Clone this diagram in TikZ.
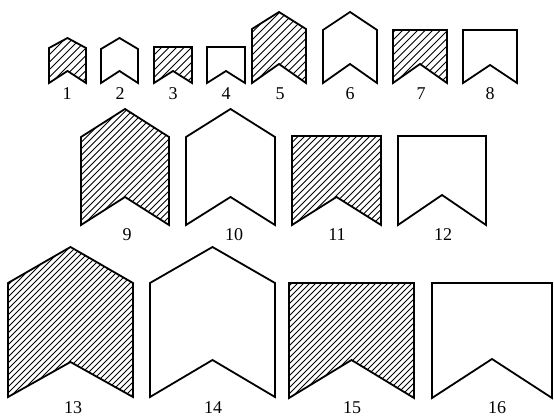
\documentclass[tikz,border=0pt]{standalone}
\usepackage{fontspec}
\setmainfont{Liberation Serif}
\tikzset{
  outline/.style={line width=1.8pt, line join=miter, miter limit=4},
  hatchline/.style={line width=0.9pt},
  lbl/.style={font=\fontsize{18}{18}\selectfont, inner sep=0pt, anchor=center}
}
\newcommand{\hsp}{7}
% #1 name, #2 xl, #3 xr, #4 ytop, #5 yshoulder, #6 ybottom, #7 ynotch, #8 hatched (1/0)
\newcommand{\mkflag}[8]{%
  \coordinate (#1-bl) at (#2,#6);
  \coordinate (#1-sl) at (#2,#5);
  \coordinate (#1-t)  at ({(#2+#3)/2},#4);
  \coordinate (#1-sr) at (#3,#5);
  \coordinate (#1-br) at (#3,#6);
  \coordinate (#1-n)  at ({(#2+#3)/2},#7);
  \ifnum#8=1
    \begin{scope}
      \clip (#1-bl) -- (#1-sl) -- (#1-t) -- (#1-sr) -- (#1-br) -- (#1-n) -- cycle;
      \foreach \j in {-28,...,24}
        \draw[hatchline] ({#2+\j*\hsp},{#6+2}) -- ++(200,-200);
    \end{scope}
  \fi
  \draw[outline] (#1-bl) -- (#1-sl) -- (#1-t) -- (#1-sr) -- (#1-br) -- (#1-n) -- cycle;
}
\begin{document}
\begin{tikzpicture}[x=1pt,y=-1pt]
\useasboundingbox (0,0) rectangle (554,417);
% row 1
\renewcommand{\hsp}{7.5}
\mkflag{f1}{49}{86}{38}{48}{83}{71}{1}
\mkflag{f2}{101}{138}{38}{49}{83}{71}{0}
\mkflag{f3}{154}{192}{47}{47}{83}{71}{1}
\mkflag{f4}{207}{245}{47}{47}{83}{71}{0}
\mkflag{f5}{252}{306}{12}{29}{83}{64}{1}
\mkflag{f6}{323}{377}{12}{30}{83}{64}{0}
\mkflag{f7}{393}{447}{30}{30}{83}{64}{1}
\mkflag{f8}{463}{517}{30}{30}{83}{65}{0}
\node[lbl] (l1) at (67,94) {1};
\node[lbl] (l2) at (120,94) {2};
\node[lbl] (l3) at (173,94) {3};
\node[lbl] (l4) at (226,94) {4};
\node[lbl] (l5) at (280,94) {5};
\node[lbl] (l6) at (350,94) {6};
\node[lbl] (l7) at (421,94) {7};
\node[lbl] (l8) at (490,94) {8};
% row 2
\renewcommand{\hsp}{6.5}
\mkflag{f9}{81}{169}{109}{137}{225}{197}{1}
\mkflag{f10}{186}{275}{109}{137}{225}{197}{0}
\mkflag{f11}{292}{381}{136}{136}{225}{197}{1}
\mkflag{f12}{398}{486}{136}{136}{225}{195}{0}
\node[lbl] (l9) at (127,235) {9};
\node[lbl] (l10) at (234,235) {10};
\node[lbl] (l11) at (337,235) {11};
\node[lbl] (l12) at (443,235) {12};
% row 3
\renewcommand{\hsp}{6}
\mkflag{f13}{8}{133}{247}{283}{397}{362}{1}
\mkflag{f14}{150}{275}{247}{283}{397}{360}{0}
\mkflag{f15}{289}{414}{283}{283}{398}{360}{1}
\mkflag{f16}{432}{552}{283}{283}{398}{359}{0}
\node[lbl] (l13) at (73,408) {13};
\node[lbl] (l14) at (213,408) {14};
\node[lbl] (l15) at (352,408) {15};
\node[lbl] (l16) at (497,408) {16};
\end{tikzpicture}
\end{document}
